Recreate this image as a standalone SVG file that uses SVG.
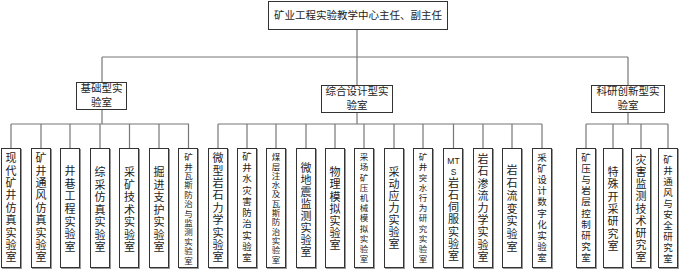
<svg xmlns="http://www.w3.org/2000/svg" width="680" height="270" viewBox="0 0 680 270">
<style>
text{font-family:"Noto Sans CJK SC","Noto Sans",sans-serif;fill:#222;text-anchor:middle}
.box{fill:#fff;stroke:#333;stroke-width:1}
.sh{fill:#999}
.c{fill:none;stroke:#777;stroke-width:1.2}
.t{font-size:10.5px}
.vt{writing-mode:vertical-rl;text-anchor:start}
.v{font-size:11px}
.s{font-size:8.5px}
.m{font-size:9.5px}
.lat{font-family:"Liberation Sans",Arial,sans-serif;font-size:8.5px}
</style>
<rect width="680" height="270" fill="#fff"/>
<g id="connectors">
<path class="c" d="M357 29V57M102 57H628M102 57V82M357 57V85M628 57V85"/>
<path class="c" d="M102 109V124M11 124H189M11 124V148M41 124V148M70 124V148M100 124V148M129.5 124V148M159 124V148M188.5 124V148"/>
<path class="c" d="M357 113V124M218 124H542M218 124V148M247 124V148M276 124V148M306 124V148M335 124V148M364 124V148M394 124V148M423 124V148M453.5 124V148M483 124V148M512 124V148M542 124V148"/>
<path class="c" d="M628 113V124M586 124H668M586 124V148M613 124V148M641 124V148M668 124V148"/>
</g>
<g id="top"><rect class="box" x="268.5" y="1.5" width="179" height="28"/><text class="t" x="358" y="19">矿业工程实验教学中心主任、副主任</text></g>
<g id="basic"><rect class="box" x="76.5" y="82.5" width="50" height="27"/><text class="t" x="101.5" y="92">基础型实</text><text class="t" x="101.5" y="105.5">验室</text></g>
<g id="comprehensive"><rect class="box" x="321.5" y="85.5" width="71" height="27"/><text class="t" x="357" y="95">综合设计型实</text><text class="t" x="357" y="108.5">验室</text></g>
<g id="research"><rect class="box" x="591.5" y="85.5" width="73" height="27"/><text class="t" x="628" y="95">科研创新型实</text><text class="t" x="628" y="108.5">验室</text></g>

<g id="n1"><rect class="sh" x="2" y="149" width="20" height="120"/><rect class="box" x="1.5" y="148.5" width="19" height="119"/><text class="vt v" x="11" y="152.5" letter-spacing="1.4">现代矿井仿真实验室</text></g>
<g id="n2"><rect class="sh" x="32" y="149" width="20" height="120"/><rect class="box" x="31.5" y="148.5" width="19" height="119"/><text class="vt v" x="41" y="152.5" letter-spacing="1.4">矿井通风仿真实验室</text></g>
<g id="n3"><rect class="sh" x="61" y="149" width="20" height="120"/><rect class="box" x="60.5" y="148.5" width="19" height="119"/><text class="vt v" x="70" y="165.5" letter-spacing="1.6">井巷工程实验室</text></g>
<g id="n4"><rect class="sh" x="91" y="149" width="20" height="120"/><rect class="box" x="90.5" y="148.5" width="19" height="119"/><text class="vt v" x="100" y="166.5" letter-spacing="1.5">综采仿真实验室</text></g>
<g id="n5"><rect class="sh" x="120" y="149" width="20" height="120"/><rect class="box" x="119.5" y="148.5" width="19" height="119"/><text class="vt v" x="129.5" y="166.5" letter-spacing="1.5">采矿技术实验室</text></g>
<g id="n6"><rect class="sh" x="150" y="149" width="20" height="120"/><rect class="box" x="149.5" y="148.5" width="19" height="119"/><text class="vt v" x="159" y="166.5" letter-spacing="1.5">掘进支护实验室</text></g>
<g id="n7"><rect class="sh" x="179" y="149" width="20" height="120"/><rect class="box" x="178.5" y="148.5" width="19" height="119"/><text class="vt s" x="188.5" y="152.75" letter-spacing="0.9">矿井瓦斯防治与监测实验室</text></g>

<g id="n8"><rect class="sh" x="209" y="149" width="20" height="120"/><rect class="box" x="208.5" y="148.5" width="19" height="119"/><text class="vt v" x="218" y="152.5" letter-spacing="1.4">微型岩石力学实验室</text></g>
<g id="n9"><rect class="sh" x="238" y="149" width="20" height="120"/><rect class="box" x="237.5" y="148.5" width="19" height="119"/><text class="vt m" x="247" y="151.25" letter-spacing="1.8">矿井水灾害防治实验室</text></g>
<g id="n10"><rect class="sh" x="267" y="149" width="20" height="120"/><rect class="box" x="266.5" y="148.5" width="19" height="119"/><text class="vt s" x="276" y="152.75" letter-spacing="0.8">煤层注水及瓦斯防治实验室</text></g>
<g id="n11"><rect class="sh" x="297" y="149" width="20" height="120"/><rect class="box" x="296.5" y="148.5" width="19" height="119"/><text class="vt v" x="306" y="162.5" letter-spacing="1">微地震监测实验室</text></g>
<g id="n12"><rect class="sh" x="326" y="149" width="20" height="120"/><rect class="box" x="325.5" y="148.5" width="19" height="119"/><text class="vt v" x="335" y="166.5" letter-spacing="1.2">物理模拟实验室</text></g>
<g id="n13"><rect class="sh" x="355" y="149" width="20" height="120"/><rect class="box" x="354.5" y="148.5" width="19" height="119"/><text class="vt s" x="364" y="152.75" letter-spacing="1.7">采场矿压机械模拟实验室</text></g>
<g id="n14"><rect class="sh" x="385" y="149" width="20" height="120"/><rect class="box" x="384.5" y="148.5" width="19" height="119"/><text class="vt v" x="394" y="166.5" letter-spacing="1">采动应力实验室</text></g>
<g id="n15"><rect class="sh" x="414" y="149" width="20" height="120"/><rect class="box" x="413.5" y="148.5" width="19" height="119"/><text class="vt s" x="423" y="152.75" letter-spacing="1.7">矿井突水行为研究实验室</text></g>
<g id="n16"><rect class="sh" x="444" y="149" width="20" height="120"/><rect class="box" x="443.5" y="148.5" width="19" height="119"/><text class="lat" x="453.5" y="163.5">MT</text><text class="lat" x="453.5" y="175">S</text><text class="vt v" x="453.5" y="177.5" letter-spacing="1.1">岩石伺服实验室</text></g>
<g id="n17"><rect class="sh" x="474" y="149" width="20" height="120"/><rect class="box" x="473.5" y="148.5" width="19" height="119"/><text class="vt v" x="483" y="153.5" letter-spacing="1.2">岩石渗流力学实验室</text></g>
<g id="n18"><rect class="sh" x="503" y="149" width="20" height="120"/><rect class="box" x="502.5" y="148.5" width="19" height="119"/><text class="vt v" x="512" y="164.5" letter-spacing="1.8">岩石流变实验室</text></g>
<g id="n19"><rect class="sh" x="533" y="149" width="20" height="120"/><rect class="box" x="532.5" y="148.5" width="19" height="119"/><text class="vt m" x="542" y="152.25" letter-spacing="1.7">采矿设计数字化实验室</text></g>

<g id="n20"><rect class="sh" x="577" y="149" width="20" height="120"/><rect class="box" x="576.5" y="148.5" width="19" height="119"/><text class="vt m" x="586" y="152.25" letter-spacing="1.7">矿压与岩层控制研究室</text></g>
<g id="n21"><rect class="sh" x="604" y="149" width="20" height="120"/><rect class="box" x="603.5" y="148.5" width="19" height="119"/><text class="vt v" x="613" y="166.5" letter-spacing="1.3">特殊开采研究室</text></g>
<g id="n22"><rect class="sh" x="632" y="149" width="20" height="120"/><rect class="box" x="631.5" y="148.5" width="19" height="119"/><text class="vt v" x="641" y="154.5" letter-spacing="1.1">灾害监测技术研究室</text></g>
<g id="n23"><rect class="sh" x="659" y="149" width="20" height="120"/><rect class="box" x="658.5" y="148.5" width="19" height="119"/><text class="vt m" x="668" y="154.25" letter-spacing="1.5">矿井通风与安全研究室</text></g>
</svg>
